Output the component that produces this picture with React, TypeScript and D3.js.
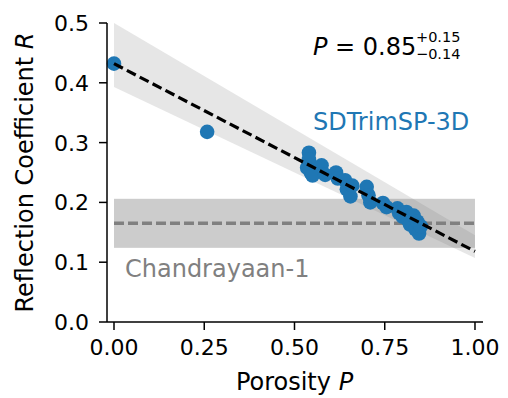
import React from "react";
import * as d3 from "d3";

const simP = [0, 0.258, 0.54, 0.54, 0.545, 0.545, 0.535, 0.55, 0.575, 0.585, 0.615, 0.62, 0.64, 0.645, 0.655, 0.66, 0.7, 0.705, 0.71, 0.745, 0.755, 0.785, 0.79, 0.8, 0.81, 0.815, 0.82, 0.83, 0.835, 0.84, 0.845, 0.85];
const simR = [0.432, 0.318, 0.283, 0.272, 0.262, 0.25, 0.258, 0.245, 0.262, 0.246, 0.25, 0.24, 0.237, 0.222, 0.21, 0.228, 0.226, 0.212, 0.2, 0.199, 0.192, 0.19, 0.182, 0.176, 0.184, 0.17, 0.163, 0.178, 0.155, 0.168, 0.148, 0.16];

const fitP = [0, 1];
const fitR = [0.432, 0.118];
const fitUpper = [0.5, 0.145];
const fitLower = [0.393, 0.107];

const obsP = [0, 1];
const obsR = 0.165;
const obsLow = 0.124;
const obsHigh = 0.206;

const xTicks = [0, 0.25, 0.5, 0.75, 1.0];
const xTickLabels = ["0.00", "0.25", "0.50", "0.75", "1.00"];
const yTicks = [0, 0.1, 0.2, 0.3, 0.4, 0.5];
const yTickLabels = ["0.0", "0.1", "0.2", "0.3", "0.4", "0.5"];

const W = 508;
const H = 398;
const FONT = "DejaVu Sans, sans-serif";

export default function App() {
  const x = d3.scaleLinear().domain([-0.0194, 1.0222]).range([107, 483]);
  const y = d3.scaleLinear().domain([0, 0.5]).range([322, 23]);

  const bandData = fitP.map((p, i) => ({ p, lo: fitLower[i], hi: fitUpper[i] }));
  const area = d3
    .area<{ p: number; lo: number; hi: number }>()
    .x((d) => x(d.p))
    .y0((d) => y(d.lo))
    .y1((d) => y(d.hi));
  const line = d3
    .line<number>()
    .x((_, i) => x(fitP[i]))
    .y((d) => y(d));

  const [x0, x1] = x.range();
  const [yb, yt] = y.range();

  return (
    <div style={{ position: "absolute", left: 0, top: 0 }}>
      <svg width={W} height={H} style={{ display: "block", background: "white" }} fontFamily={FONT}>
        {/* fit uncertainty band */}
        <path d={area(bandData) || ""} fill="gray" fillOpacity={0.2} />
        {/* observation band */}
        <rect
          x={x(obsP[0])}
          y={y(obsHigh)}
          width={x(obsP[1]) - x(obsP[0])}
          height={y(obsLow) - y(obsHigh)}
          fill="gray"
          fillOpacity={0.4}
        />
        <line
          x1={x(obsP[0])}
          x2={x(obsP[1])}
          y1={y(obsR)}
          y2={y(obsR)}
          stroke="#808080"
          strokeWidth={3.5}
          strokeDasharray="10,4"
        />
        {/* scatter */}
        {simP.map((p, i) => (
          <circle key={i} cx={x(p)} cy={y(simR[i])} r={7.3} fill="#1f77b4" />
        ))}
        {/* fit line */}
        <path d={line(fitR) || ""} fill="none" stroke="black" strokeWidth={3.2} strokeDasharray="10,4.5" />

        {/* axes */}
        <line x1={x0} x2={x0} y1={yb} y2={yt} stroke="black" strokeWidth={1.5} />
        <line x1={x0} x2={x1} y1={yb} y2={yb} stroke="black" strokeWidth={1.5} />
        {yTicks.map((t, i) => (
          <g key={"y" + i}>
            <line x1={x0 - 8} x2={x0} y1={y(t)} y2={y(t)} stroke="black" strokeWidth={1.5} />
            <text x={x0 - 18} y={y(t)} dy="0.36em" textAnchor="end" fontSize={22} fill="black">
              {yTickLabels[i]}
            </text>
          </g>
        ))}
        {xTicks.map((t, i) => (
          <g key={"x" + i}>
            <line x1={x(t)} x2={x(t)} y1={yb} y2={yb + 8} stroke="black" strokeWidth={1.5} />
            <text x={x(t)} y={355} textAnchor="middle" fontSize={22} fill="black">
              {xTickLabels[i]}
            </text>
          </g>
        ))}
        <text x={x(0.5)} y={390} textAnchor="middle" fontSize={24} fill="black">
          Porosity <tspan fontStyle="italic">P</tspan>
        </text>
        <text
          transform={`translate(33, ${(yb + yt) / 2}) rotate(-90)`}
          textAnchor="middle"
          fontSize={24}
          fill="black"
        >
          Reflection Coefficient <tspan fontStyle="italic">R</tspan>
        </text>

        {/* annotations */}
        <text x={313} y={55} fontSize={24} fill="black">
          <tspan fontStyle="italic">P</tspan>
          <tspan> = 0.85</tspan>
        </text>
        <text x={416} y={42} fontSize={14.5} fill="black">+0.15</text>
        <text x={416} y={59} fontSize={14.5} fill="black">−0.14</text>
        <text x={313} y={130} fontSize={24} fill="#1f77b4">SDTrimSP-3D</text>
        <text x={125} y={277} fontSize={24} fill="#808080">Chandrayaan-1</text>
      </svg>
    </div>
  );
}
